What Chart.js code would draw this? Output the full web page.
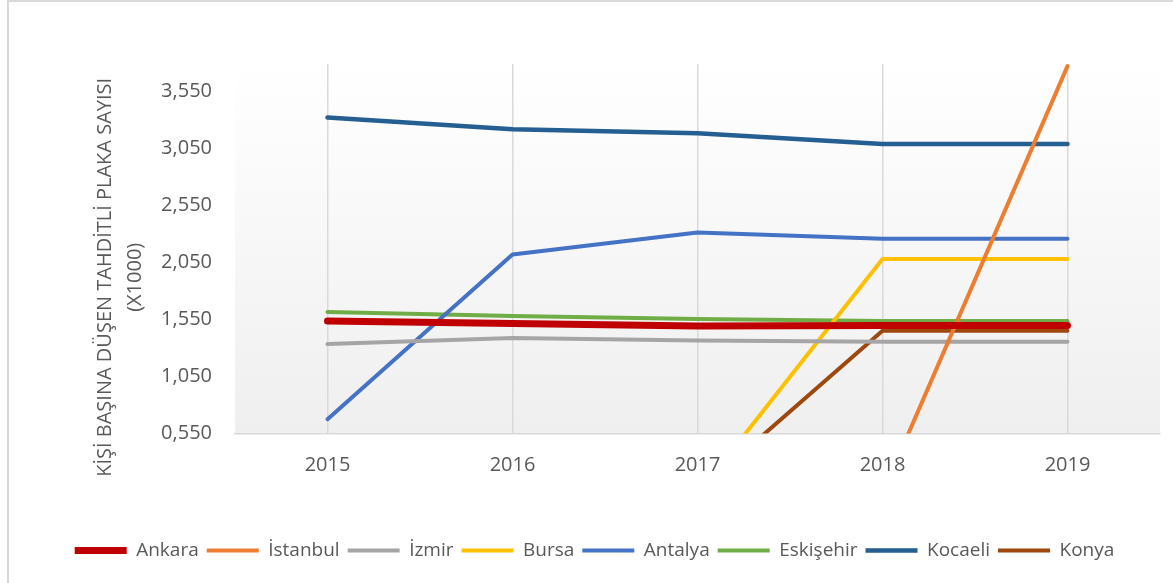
<!DOCTYPE html>
<html>
<head>
<meta charset="utf-8">
<script src="https://cdn.jsdelivr.net/npm/chart.js@4.4.1/dist/chart.umd.min.js"></script>
<style>
  html, body { margin: 0; padding: 0; background: #fff; }
  #wrap { width: 1173px; height: 583px; position: relative; }
</style>
</head>
<body>
<div id="wrap"><canvas id="chart" width="1173" height="583"></canvas></div>
<script>
// veriler
const years = ['2015', '2016', '2017', '2018', '2019']
const yTicks = [0.55, 1.05, 1.55, 2.05, 2.55, 3.05, 3.55]

const ankara    = [1.536, 1.515, 1.492, 1.497, 1.497]
const istanbul  = [0.020, 0.020, 0.022, 0.025, 3.771]
const izmir     = [1.334, 1.387, 1.365, 1.354, 1.354]
const bursa     = [0.010, 0.010, 0.014, 2.081, 2.081]
const antalya   = [0.675, 2.119, 2.312, 2.257, 2.257]
const eskisehir = [1.615, 1.580, 1.553, 1.536, 1.536]
const kocaeli   = [3.320, 3.217, 3.182, 3.088, 3.088]
const konya     = [0.030, 0.030, 0.035, 1.451, 1.451]

const textColor = '#595959'
const fontFamily = "'Open Sans', 'DejaVu Sans', sans-serif"

function line(label, data, color, width) {
  return {
    label: label,
    data: data,
    borderColor: color,
    backgroundColor: color,
    borderWidth: width,
    pointRadius: 0,
    pointStyle: 'line',
    tension: 0,
    clip: 0,
    borderCapStyle: 'round',
    borderJoinStyle: 'round'
  }
}

// çizim alanı arka planı ve çerçeve
const backgroundPlugin = {
  id: 'plotBackground',
  beforeDraw(chart) {
    const { ctx, chartArea: a } = chart
    ctx.save()
    const g = ctx.createLinearGradient(0, a.top, 0, a.bottom)
    g.addColorStop(0, '#ffffff')
    g.addColorStop(1, '#efefef')
    ctx.fillStyle = g
    ctx.fillRect(a.left, a.top, a.right - a.left, a.bottom - a.top)
    ctx.strokeStyle = '#d9d9d9'
    ctx.lineWidth = 2
    ctx.beginPath()
    ctx.moveTo(8, 600)
    ctx.lineTo(8, 1)
    ctx.lineTo(1200, 1)
    ctx.stroke()
    ctx.restore()
  }
}

new Chart(document.getElementById('chart'), {
  type: 'line',
  data: {
    labels: years,
    datasets: [
      line('Ankara', ankara, '#C00000', 7),
      line('İstanbul', istanbul, '#ED7D31', 4),
      line('İzmir', izmir, '#A5A5A5', 4),
      line('Bursa', bursa, '#FFC000', 4),
      line('Antalya', antalya, '#4472C4', 4),
      line('Eskişehir', eskisehir, '#70AD47', 4),
      line('Kocaeli', kocaeli, '#255E91', 4.5),
      line('Konya', konya, '#9E480E', 4)
    ]
  },
  options: {
    responsive: false,
    animation: false,
    events: [],
    layout: { padding: { left: 16, right: 0, top: 64, bottom: 13 } },
    plugins: {
      tooltip: { enabled: false },
      legend: {
        position: 'bottom',
        labels: {
          usePointStyle: true,
          pointStyleWidth: 52,
          padding: 8,
          color: textColor,
          font: { family: fontFamily, size: 19 }
        }
      }
    },
    scales: {
      x: {
        offset: true,
        grid: { display: true, offset: false, drawTicks: false, color: '#d9d9d9', lineWidth: 1.5 },
        border: { display: true, color: '#d9d9d9', width: 1.5 },
        ticks: { color: textColor, padding: 20, font: { family: fontFamily, size: 20 } },
        afterFit(scale) { scale.height = 99.5 }
      },
      y: {
        min: 0.55,
        max: 3.79,
        grid: { display: false, drawTicks: false },
        border: { display: false },
        afterBuildTicks(scale) { scale.ticks = yTicks.map(v => ({ value: v })) },
        ticks: {
          color: textColor,
          padding: 23,
          font: { family: fontFamily, size: 20 },
          callback: v => v.toFixed(3).replace('.', ',')
        },
        title: {
          display: true,
          // sondaki boşluklar başlığı grafikteki gibi biraz aşağı kaydırır
          text: ['KİŞİ BAŞINA DÜŞEN TAHDİTLİ PLAKA SAYISI           ', '(X1000)           '],
          color: textColor,
          font: { family: fontFamily, size: 20, lineHeight: 1.5 },
          padding: { top: 74, bottom: 0 }
        },
        afterFit(scale) { scale.width = 219 }
      },
      y2: {
        position: 'right',
        display: true,
        grid: { display: false, drawTicks: false },
        border: { display: false },
        ticks: { display: false },
        afterFit(scale) { scale.width = 13 }
      }
    }
  },
  plugins: [backgroundPlugin]
})
</script>
</body>
</html>
